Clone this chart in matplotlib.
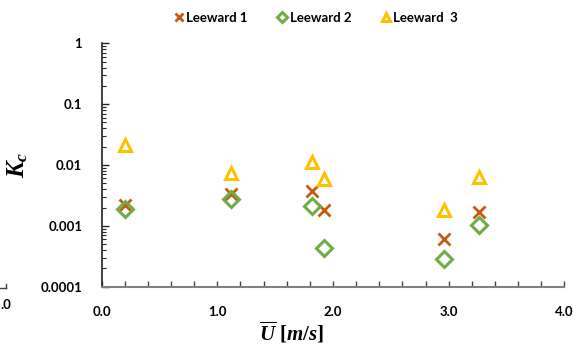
import matplotlib.pyplot as plt
from matplotlib.lines import Line2D
from matplotlib.ticker import LogLocator, MultipleLocator, NullFormatter

plt.rcParams['font.family'] = ['Lato', 'DejaVu Sans']
plt.rcParams['font.weight'] = 'bold'
plt.rcParams['mathtext.fontset'] = 'custom'
plt.rcParams['mathtext.rm'] = 'Liberation Serif:bold'
plt.rcParams['mathtext.it'] = 'Liberation Serif:italic:bold'
plt.rcParams['mathtext.bf'] = 'Liberation Serif:bold'

# wind speed [m/s]
u = [0.20, 1.12, 1.82, 1.92, 2.96, 3.26]
leeward1 = [0.0022, 0.0033, 0.0037, 0.0018, 0.0006, 0.0017]
leeward2 = [0.0019, 0.0028, 0.0021, 0.00044, 0.00029, 0.00104]
leeward3 = [0.021, 0.0073, 0.011, 0.0059, 0.0018, 0.0063]

fig = plt.figure(figsize=(5.73, 3.47), dpi=100)
ax = fig.add_axes([0.1775, 0.1738, 0.8073, 0.7014])

ax.plot(u, leeward1, linestyle='none', marker='x', ms=8, mew=2.0,
        color='#C55A11', label='Leeward 1')
ax.plot(u, leeward2, linestyle='none', marker='D', ms=8, mew=2.2,
        mfc='none', mec='#70AD47', label='Leeward 2')
ax.plot(u, leeward3, linestyle='none', marker='^', ms=9, mew=2.2,
        mfc='none', mec='#FFC000', label='Leeward  3')

ax.set_yscale('log')
ax.set_ylim(1e-4, 1)
ax.set_xlim(0, 4)
ax.set_yticks([1e-4, 1e-3, 1e-2, 1e-1, 1])
ax.set_yticklabels(['0.0001', '0.001', '0.01', '0.1', '1'])
ax.yaxis.set_minor_locator(LogLocator(base=10, subs=range(2, 10)))
ax.yaxis.set_minor_formatter(NullFormatter())
ax.set_xticks([0, 1, 2, 3, 4])
ax.set_xticklabels(['0.0', '1.0', '2.0', '3.0', '4.0'])
ax.xaxis.set_minor_locator(MultipleLocator(0.2))

for s in ['top', 'right']:
    ax.spines[s].set_visible(False)
ax.spines['bottom'].set_color('#808080')
ax.spines['bottom'].set_linewidth(1.5)
ax.spines['left'].set_color('#222222')
ax.spines['left'].set_linewidth(1.2)

ax.tick_params(axis='x', which='both', direction='in', length=4, width=1,
               color='#404040', labelsize=9.5, pad=14)
ax.tick_params(axis='y', which='major', direction='in', length=5, width=1,
               color='#222222', labelsize=9.5, pad=14)
ax.tick_params(axis='y', which='minor', direction='in', length=3, width=0.8,
               color='#222222')
for lab in ax.get_xticklabels() + ax.get_yticklabels():
    lab.set_fontweight('bold')

ax.set_xlabel(r'$\overline{U}\ [m/s]$', fontsize=15)
ax.xaxis.set_label_coords(0.41, -0.135)
ax.set_ylabel(r'$K_c$', fontsize=18)
ax.yaxis.set_label_coords(-0.155, 0.5)

leg = ax.legend(loc='center', bbox_to_anchor=(0.462, 1.104),
                ncol=3, frameon=False, fontsize=9.5, handletextpad=0.1,
                columnspacing=2.2, markerscale=0.7, handlelength=0.9)
for t in leg.get_texts():
    t.set_fontweight('bold')

# remnant of a neighbouring chart at the left edge
fig.text(0.0, 1 - 305 / 347, '.0', ha='left', va='center',
         fontsize=9.5, fontweight='bold')
fig.add_artist(Line2D([0, 6 / 573], [1 - 288 / 347] * 2, color='#404040', lw=1))
fig.add_artist(Line2D([6 / 573] * 2, [1 - 284 / 347, 1 - 288 / 347], color='#404040', lw=1))

fig.savefig('out.png', dpi=100)
